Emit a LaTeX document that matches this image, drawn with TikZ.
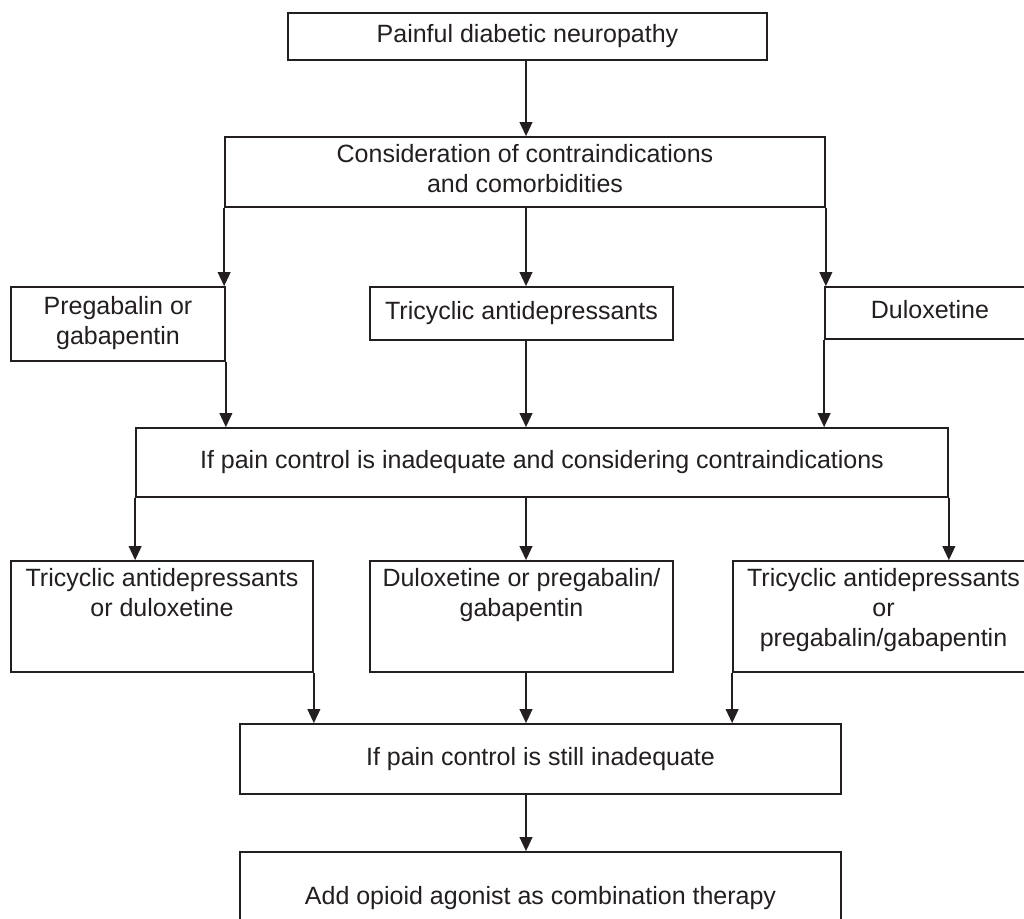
\documentclass[tikz,border=0pt]{standalone}
\usepackage{fontspec}
\setmainfont{Liberation Sans}
\usetikzlibrary{arrows.meta}
\definecolor{ink}{RGB}{35,31,32}
\begin{document}
\begin{tikzpicture}[x=0.75pt,y=-0.75pt,
  box/.style={draw=ink, line width=1.3pt, rectangle, inner sep=0pt, align=center, text=ink,
    font=\fontsize{18.75}{22.5}\selectfont},
  txt/.style={inner sep=0pt, align=center, text=ink, font=\fontsize{18.75}{22.5}\selectfont},
  arr/.style={draw=ink, line width=1.3pt, -{Triangle[width=9.5pt,length=10.5pt]}},
]
\useasboundingbox (0,0) rectangle (1024,919);
\clip (0,0) rectangle (1024,919);
\fill[white] (0,0) rectangle (1024,919);
\coordinate (mx) at (526,0);

% row 1 and 2
\node[box, line width=1.7pt, minimum width=359.25pt, minimum height=35.25pt] (b1) at (527.5,36.5) {\strut Painful diabetic neuropathy};
\node[box, minimum width=450pt, minimum height=52.5pt] (b2) at (525,172) {\strut Consideration of contraindications\\\strut and comorbidities};

% row 3
\node[box, minimum width=160.5pt, minimum height=55.5pt] (b3) at (118,324) {\strut Pregabalin or\\\strut gabapentin};
\node[box, minimum width=227.25pt, minimum height=39.75pt] (b4) at (521.5,313.5) {\strut Tricyclic antidepressants};
\node[box, minimum width=157.5pt, minimum height=39pt] (b5) at (930,313) {\strut Duloxetine};

% row 4
\node[box, minimum width=609pt, minimum height=51.75pt] (b6) at (542,462.5) {\strut If pain control is inadequate and considering contraindications};

% row 5
\node[box, minimum width=226.5pt, minimum height=83.25pt] (b7) at (162,616.5) {};
\node[box, minimum width=227.25pt, minimum height=83.25pt] (b8) at (521.5,616.5) {};
\node[box, minimum width=225.75pt, minimum height=83.25pt] (b9) at (883.5,616.5) {};
\node[txt, anchor=north] (t7) at ([yshift=-3.5pt]b7.north) {\strut Tricyclic antidepressants\\\strut or duloxetine};
\node[txt, anchor=north] (t8) at ([yshift=-3.5pt]b8.north) {\strut Duloxetine or pregabalin/\\\strut gabapentin};
\node[txt, anchor=north] (t9) at ([yshift=-3.5pt]b9.north) {\strut Tricyclic antidepressants\\\strut or\\\strut pregabalin/gabapentin};

% row 6 and 7
\node[box, minimum width=450.75pt, minimum height=52.5pt] (b10) at (540.5,759) {\strut If pain control is still inadequate};
\node[box, minimum width=450.75pt, minimum height=69pt] (b11) at (540.5,898) {\strut Add opioid agonist as combination therapy};

% connectors
\draw[arr] (b1.south -| mx) -- (b2.north -| mx);
\draw[arr] (b2.south west) -- (b2.south west |- b3.north);
\draw[arr] (b2.south -| mx) -- (b4.north -| mx);
\draw[arr] (b2.south east) -- (b2.south east |- b5.north);
\draw[arr] (b3.south east) -- (b3.south east |- b6.north);
\draw[arr] (b4.south -| mx) -- (b6.north -| mx);
\draw[arr] (b5.south west) -- (b5.south west |- b6.north);
\draw[arr] (b6.south west) -- (b6.south west |- b7.north);
\draw[arr] (b6.south -| mx) -- (b8.north -| mx);
\draw[arr] (b6.south east) -- (b6.south east |- b9.north);
\draw[arr] (b7.south east) -- (b7.south east |- b10.north);
\draw[arr] (b8.south -| mx) -- (b10.north -| mx);
\draw[arr] (b9.south west) -- (b9.south west |- b10.north);
\draw[arr] (b10.south -| mx) -- (b11.north -| mx);
\end{tikzpicture}
\end{document}
